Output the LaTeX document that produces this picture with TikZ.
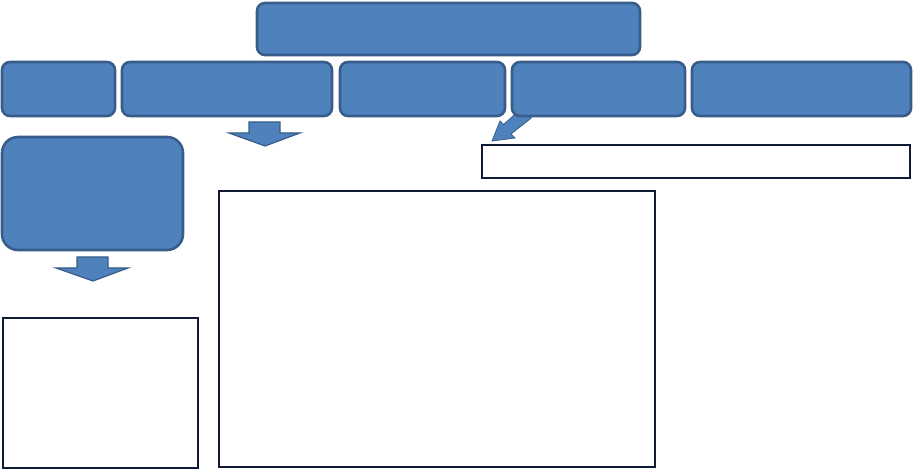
\documentclass[tikz,border=0pt]{standalone}
\usetikzlibrary{positioning}
\definecolor{bfill}{HTML}{4F81BD}
\definecolor{bline}{HTML}{385D8A}
\definecolor{navy}{HTML}{0F1A33}
\tikzset{
  bluebox/.style={draw=bline, fill=bfill, line width=2.6pt, rounded corners=8pt, rectangle, anchor=north west, inner sep=0pt, outer sep=0pt},
  textbox/.style={draw=navy, fill=white, line width=1.5pt, rectangle, anchor=north west, inner sep=0pt, outer sep=0pt},
  blockarrow/.style={draw=bline, fill=bfill, line width=1.2pt, line join=miter}
}
\begin{document}
\begin{tikzpicture}[x=1pt,y=-1pt]
\useasboundingbox (0,0) rectangle (913,470);
% small diagonal arrow under r4 (tail hidden behind the box)
\draw[blockarrow, line width=0.8pt] (522.7,107.5) -- (503.5,124.5) -- (500,121) -- (492,141) -- (515,138) -- (511,134) -- (531.3,118) -- cycle;
% top box
\node[bluebox, minimum width=383pt, minimum height=52pt] (top) at (257,3) {};
% row
\node[bluebox, minimum width=113pt, minimum height=54pt] (r1) at (2,62) {};
\node[bluebox, minimum width=210pt, minimum height=54pt] (r2) at (122,62) {};
\node[bluebox, minimum width=165pt, minimum height=54pt] (r3) at (340,62) {};
\node[bluebox, minimum width=173pt, minimum height=54pt] (r4) at (512,62) {};
\node[bluebox, minimum width=219pt, minimum height=54pt] (r5) at (692,62) {};
% left tall box
\node[bluebox, rounded corners=16pt, minimum width=181pt, minimum height=113pt] (lt) at (2,137) {};
% text boxes
\node[textbox, minimum width=428pt, minimum height=33pt] (rt) at (482,145) {};
\node[textbox, minimum width=436pt, minimum height=276pt] (big) at (219,191) {};
\node[textbox, minimum width=195pt, minimum height=150pt] (bl) at (3,318) {};
% down arrow under r2
\draw[blockarrow] (249,122) -- (280,122) -- (280,133) -- (300,133) -- (265,146) -- (229,133) -- (249,133) -- cycle;
% down arrow under lt
\draw[blockarrow] (77,257) -- (108,257) -- (108,268) -- (128,268) -- (93,281) -- (56,268) -- (77,268) -- cycle;
\end{tikzpicture}
\end{document}
